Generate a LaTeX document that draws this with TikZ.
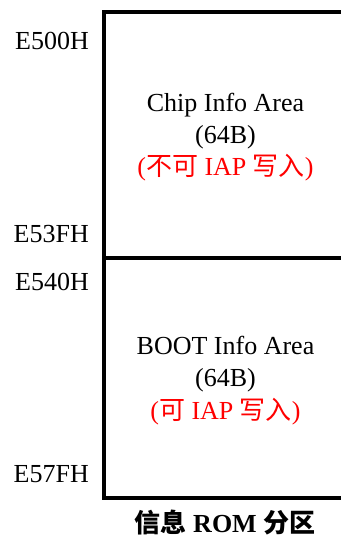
\documentclass[tikz,border=0pt]{standalone}
\usepackage{fontspec}
\setmainfont{Liberation Serif}
\newfontfamily\cjk{Noto Sans CJK SC}
\begin{document}
\begin{tikzpicture}[x=1pt,y=-1pt,
  addr/.style={anchor=base east,inner sep=0pt,font=\fontsize{26}{30}\selectfont},
  txt/.style={anchor=base,inner sep=0pt,font=\fontsize{26}{30}\selectfont},
  redtxt/.style={txt,text=red},
  frame/.style={line width=3.8pt}]
\useasboundingbox (0,0) rectangle (340,538);
% boxes
\draw[frame] (370,12.3) -- (104,12.3) -- (104,497.7) -- (370,497.7);
\draw[frame] (104,258) -- (370,258);
% address labels
\node[addr] (a1) at (89,49) {E500H};
\node[addr] (a2) at (89,242.5) {E53FH};
\node[addr] (a3) at (89,290.5) {E540H};
\node[addr] (a4) at (89,482.5) {E57FH};
% block 1
\node[txt] (c1) at (225.5,111) {Chip Info Area};
\node[txt] (c2) at (225.5,143.5) {(64B)};
\node[redtxt] (c3) at (225.5,175.8) {({\cjk 不可} IAP {\cjk 写入})};
% block 2
\node[txt] (b1) at (225.5,354) {BOOT Info Area};
\node[txt] (b2) at (225.5,386.5) {(64B)};
\node[redtxt] (b3) at (225.5,419) {({\cjk 可} IAP {\cjk 写入})};
% title
\node[txt] (t) at (225,532) {{\cjk\bfseries 信息} \textbf{ROM} {\cjk\bfseries 分区}};
\end{tikzpicture}
\end{document}
